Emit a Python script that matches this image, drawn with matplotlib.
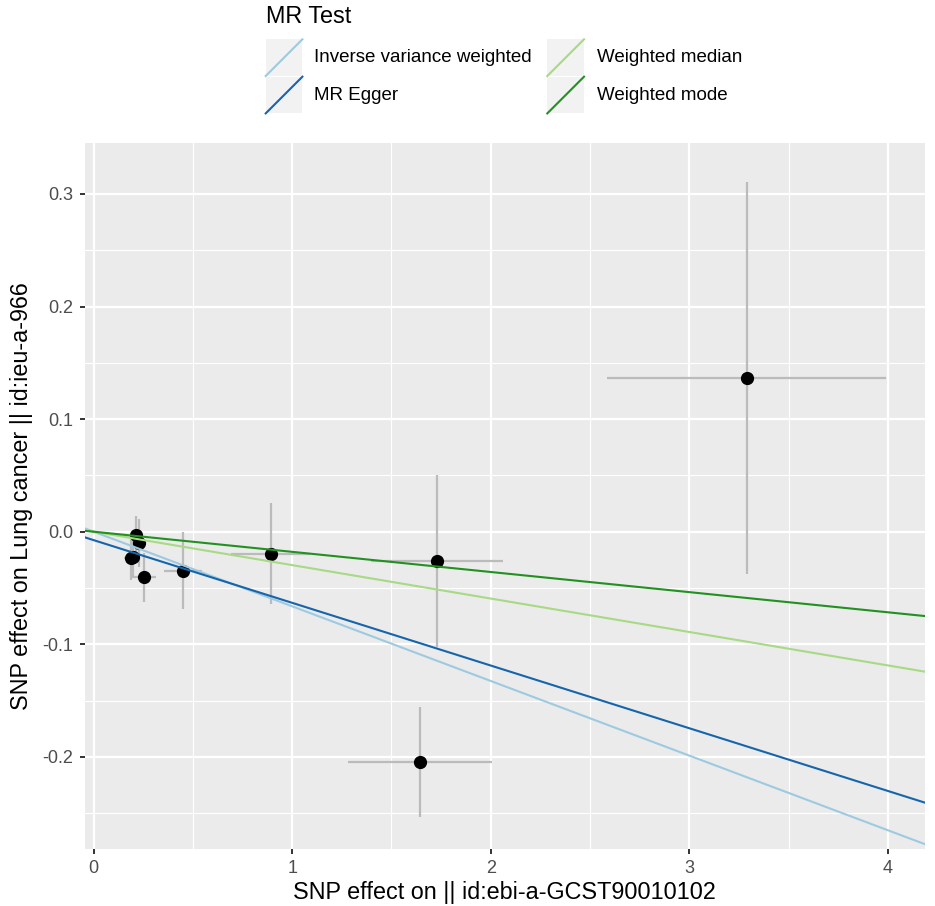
import matplotlib
matplotlib.use("Agg")
import matplotlib.pyplot as plt
from matplotlib.lines import Line2D
from matplotlib.patches import Rectangle
import numpy as np

plt.rcParams['font.family'] = ['Liberation Sans', 'DejaVu Sans']

# ---- data ----
beta_exp = [0.212, 0.229, 0.190, 0.198, 0.254, 0.450, 0.891, 1.730, 1.645, 3.289]
beta_out = [-0.003, -0.010, -0.0237, -0.0222, -0.0405, -0.0346, -0.0195, -0.026, -0.2046, 0.1366]
se_exp = [0.015, 0.015, 0.035, 0.030, 0.060, 0.097, 0.197, 0.332, 0.362, 0.701]
se_out = [0.017, 0.021, 0.019, 0.018, 0.022, 0.034, 0.045, 0.0766, 0.0486, 0.1741]

methods = ["Inverse variance weighted", "MR Egger", "Weighted median", "Weighted mode"]
slopes = [-0.0663, -0.0557, -0.0297, -0.0179]
intercepts = [0.0, -0.0075, 0.0, 0.0]
colors = ["#9ecae1", "#1565ad", "#a8d984", "#21921f"]

x_ticks = [0, 1, 2, 3, 4]
y_ticks = [-0.2, -0.1, 0.0, 0.1, 0.2, 0.3]
y_ticklabels = ["-0.2", "-0.1", "0.0", "0.1", "0.2", "0.3"]

xlabel = "SNP effect on || id:ebi-a-GCST90010102"
ylabel = "SNP effect on Lung cancer || id:ieu-a-966"
legend_title = "MR Test"

# ---- figure ----
W, H = 935, 906
fig = plt.figure(figsize=(W / 100, H / 100), dpi=100)
fig.patch.set_facecolor("white")

pl, pr, pt, pb = 84.5, 924.5, 143, 849
ax = fig.add_axes([pl / W, 1 - pb / H, (pr - pl) / W, (pb - pt) / H])
ax.set_facecolor("#EBEBEB")
for s in ax.spines.values():
    s.set_visible(False)

ax.set_xlim(-0.0459, 4.185)
ax.set_ylim(-0.2819, 0.3453)

ax.set_xticks(x_ticks)
ax.set_xticks([0.5, 1.5, 2.5, 3.5], minor=True)
ax.set_yticks(y_ticks)
ax.set_yticklabels(y_ticklabels)
ax.set_yticks([-0.25, -0.15, -0.05, 0.05, 0.15, 0.25], minor=True)
ax.grid(which="major", color="white", lw=1.6, zorder=0)
ax.grid(which="minor", color="white", lw=0.8, zorder=0)
ax.set_axisbelow(True)
ax.tick_params(which="major", length=3.6, width=1.4, color="#333333",
               labelsize=13, labelcolor="#4D4D4D", pad=4.3)
ax.tick_params(which="minor", length=0)

# error bars
ax.errorbar(beta_exp, beta_out, yerr=se_out, fmt="none", ecolor="#BBBBBB",
            elinewidth=1.6, capsize=0, zorder=2)
ax.errorbar(beta_exp, beta_out, xerr=se_exp, fmt="none", ecolor="#BBBBBB",
            elinewidth=1.6, capsize=0, zorder=2)
ax.plot(beta_exp, beta_out, "o", color="black", markersize=8.5, zorder=3)

for m, b, a, c in zip(methods, slopes, intercepts, colors):
    ax.axline((0, a), slope=b, color=c, lw=1.5, zorder=4)

ax.set_xlabel(xlabel, fontsize=16.8, color="black", labelpad=3)
ax.set_ylabel(ylabel, fontsize=16.8, color="black", labelpad=7)

# ---- legend (pixel overlay) ----
lg = fig.add_axes([0, 0, 1, 1], facecolor="none")
lg.set_xlim(0, W)
lg.set_ylim(H, 0)
lg.axis("off")
lg.text(266, 23, legend_title, fontsize=16.8, va="baseline", ha="left")
key = 36.7
col_x = [265.7, 547.3]
row_y = [39.3, 76.7]
lab_x = [314, 597]
for i, (m, c) in enumerate(zip(methods, colors)):
    col, row = i // 2, i % 2
    x0, y0 = col_x[col], row_y[row]
    lg.add_patch(Rectangle((x0, y0), key, key, facecolor="#F2F2F2", edgecolor="none"))
    lg.add_line(Line2D([x0, x0 + key], [y0 + key, y0], color=c, lw=1.5))
    lg.text(lab_x[col], y0 + key / 2, m, fontsize=13.5, va="center", ha="left")

fig.savefig("out.png", dpi=100)
